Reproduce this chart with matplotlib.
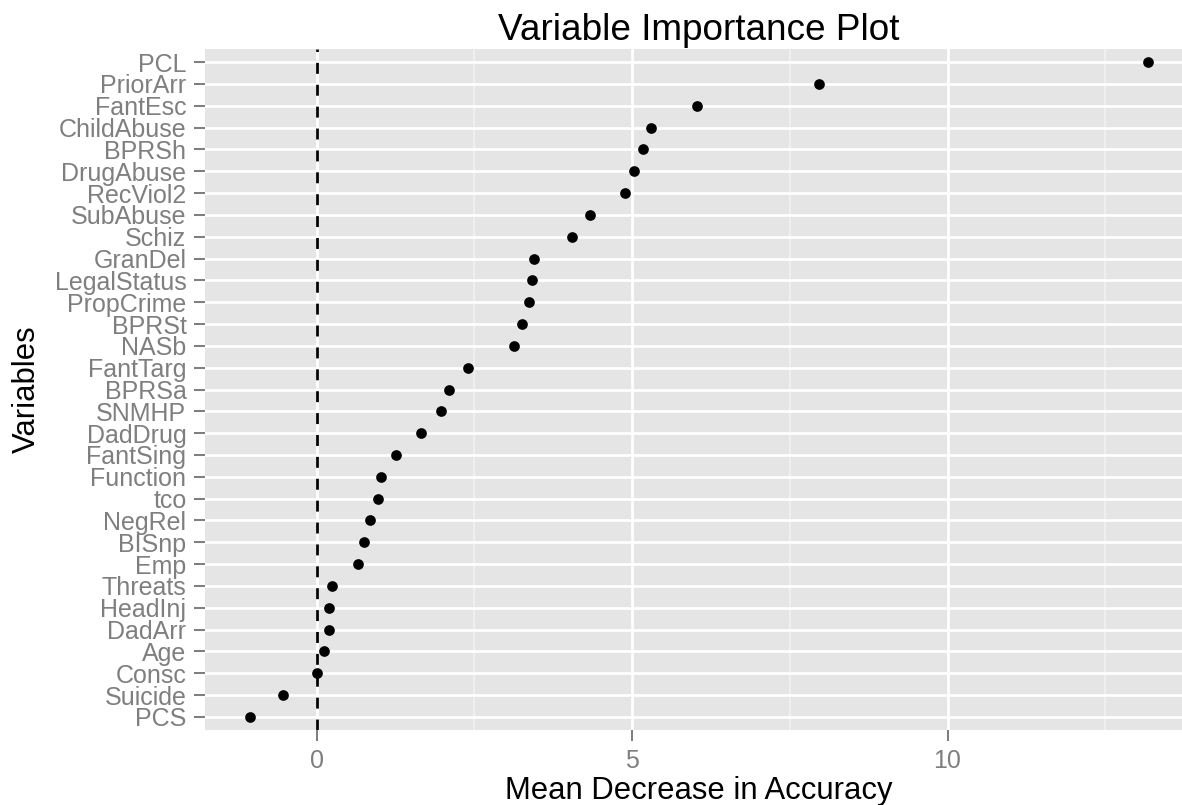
import numpy as np
import matplotlib
matplotlib.use("Agg")
import matplotlib.pyplot as plt

# variables listed top to bottom, as in the plot
variables = ["PCL", "PriorArr", "FantEsc", "ChildAbuse", "BPRSh", "DrugAbuse",
             "RecViol2", "SubAbuse", "Schiz", "GranDel", "LegalStatus",
             "PropCrime", "BPRSt", "NASb", "FantTarg", "BPRSa", "SNMHP",
             "DadDrug", "FantSing", "Function", "tco", "NegRel", "BISnp",
             "Emp", "Threats", "HeadInj", "DadArr", "Age", "Consc",
             "Suicide", "PCS"]

importance = [13.18, 7.96, 6.03, 5.30, 5.17, 5.03,
              4.89, 4.33, 4.05, 3.45, 3.42,
              3.36, 3.26, 3.13, 2.40, 2.10, 1.97,
              1.65, 1.26, 1.02, 0.97, 0.85, 0.75,
              0.65, 0.24, 0.19, 0.19, 0.11, 0.00,
              -0.54, -1.06]

x_major = [0, 5, 10]
x_minor = [2.5, 7.5, 12.5]

plt.rcParams['font.family'] = ['Liberation Sans', 'DejaVu Sans']

W, H = 1182, 805
fig = plt.figure(figsize=(W / 100, H / 100), dpi=100)

# panel runs past the right edge of the picture, as in the original
ax = fig.add_axes([205 / W, (H - 730) / H, 988 / W, 681 / H])
ax.set_facecolor("#E5E5E5")
for s in ax.spines.values():
    s.set_visible(False)

n = len(variables)
ypos = np.arange(n)[::-1]

lo, hi = min(importance), max(importance)
pad = 0.05 * (hi - lo)
ax.set_xlim(lo - pad, hi + pad)
ax.set_ylim(-0.6, n - 1 + 0.6)

ax.set_xticks(x_major)
ax.set_xticks(x_minor, minor=True)
ax.set_yticks(ypos)
ax.set_yticklabels(variables)

ax.set_axisbelow(True)
ax.grid(True, which="major", color="white", lw=1.95)
ax.grid(True, which="minor", axis="x", color="#F2F2F2", lw=1.2)

ax.tick_params(which="major", length=7.9, width=1.45, color="#7F7F7F",
               labelcolor="#7F7F7F", labelsize=18, pad=5.5)
ax.tick_params(which="minor", length=0)

ax.axvline(0, color="black", lw=1.97, linestyle=(0, (4, 4)), zorder=2)

ax.plot(importance, ypos, "o", color="black", ms=7.7, mew=0, zorder=3)

pos = ax.get_position()
cx = pos.x0 + pos.width / 2
cy = pos.y0 + pos.height / 2
fig.text(cx, 1 - 40 / H, "Variable Importance Plot", ha="center",
         va="baseline", fontsize=26.6, color="black")
fig.text(cx, 1 - 799 / H, "Mean Decrease in Accuracy", ha="center",
         va="baseline", fontsize=22.3, color="black")
fig.text(12 / W, cy, "Variables", rotation=90, ha="left", va="center",
         fontsize=22.3, color="black")

fig.savefig("out.png", dpi=100)
